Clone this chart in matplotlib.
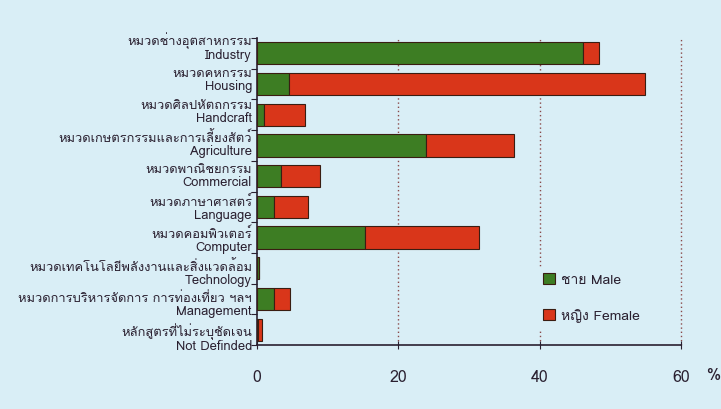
import matplotlib
matplotlib.use("Agg")
import matplotlib.pyplot as plt
from matplotlib import font_manager
from matplotlib.ft2font import FT2Font

# ---------------- data ----------------
thai_labels = [
    "หมวดช่างอุตสาหกรรม",
    "หมวดคหกรรม",
    "หมวดศิลปหัตถกรรม",
    "หมวดเกษตรกรรมและการเลี้ยงสัตว์",
    "หมวดพาณิชยกรรม",
    "หมวดภาษาศาสตร์",
    "หมวดคอมพิวเตอร์",
    "หมวดเทคโนโลยีพลังงานและสิ่งแวดล้อม",
    "หมวดการบริหารจัดการ การท่องเที่ยว ฯลฯ",
    "หลักสูตรที่ไม่ระบุชัดเจน",
]
english_labels = [
    "Industry", "Housing", "Handcraft", "Agriculture", "Commercial",
    "Language", "Computer", "Technology", "Management", "Not Definded",
]
male = [46.1, 4.5, 1.0, 23.9, 3.4, 2.4, 15.3, 0.3, 2.4, 0.1]
female = [2.3, 50.4, 5.8, 12.4, 5.5, 4.8, 16.1, 0.0, 2.3, 0.6]
x_ticks = [0, 20, 40, 60]
legend_labels = ["ชาย Male", "หญิง Female"]

# ---------------- fonts ----------------
def find_thai_font():
    found = []
    for f in font_manager.fontManager.ttflist:
        if "CJK" in f.name:
            continue
        try:
            cm = FT2Font(f.fname).get_charmap()
        except Exception:
            continue
        if 0x0E2B in cm and 0x0E21 in cm:
            found.append(f.name)
    return found

thai_fonts = find_thai_font()
fam = (thai_fonts[:1] if thai_fonts else []) + ["DejaVu Sans"]
plt.rcParams["font.family"] = fam

BG = "#d9eef6"
GREEN = "#3d7d23"
RED = "#d9361a"
EDGE = "#3a1d12"
GRID = "#8a4a4a"
TXT = "#2a2030"

fig = plt.figure(figsize=(7.21, 4.10), dpi=100, facecolor=BG)
ax = fig.add_axes([257 / 721, 1 - 346 / 410, (681 - 257) / 721, (346 - 39) / 410])
ax.set_facecolor(BG)

n = len(male)
ys = list(range(n))
ax.barh(ys, male, height=0.72, color=GREEN, edgecolor=EDGE, linewidth=0.8,
        label=legend_labels[0], zorder=3)
ax.barh(ys, female, left=male, height=0.72, color=RED, edgecolor=EDGE,
        linewidth=0.8, label=legend_labels[1], zorder=3)

ax.set_ylim(n - 0.5, -0.5)
ax.set_xlim(0, 60)

for v in x_ticks[1:]:
    ax.axvline(v, color=GRID, linestyle=(0, (1, 2)), linewidth=1.0, zorder=1,
               clip_on=False)

for s in ["top", "right"]:
    ax.spines[s].set_visible(False)
ax.spines["left"].set_color(TXT)
ax.spines["bottom"].set_color(TXT)
ax.spines["left"].set_linewidth(1.2)
ax.spines["bottom"].set_linewidth(1.2)
ax.spines["bottom"].set_zorder(4)

ax.set_yticks([i - 0.5 for i in range(n + 1)])
ax.set_yticklabels([])
ax.tick_params(axis="y", length=4, color=TXT, direction="out")

ax.set_xticks(x_ticks)
ax.set_xticklabels([str(t) for t in x_ticks], fontsize=11.5, color=TXT,
                   fontweight="medium")
ax.tick_params(axis="x", length=6, direction="inout", color=TXT, pad=14)
ax.text(1.075, -0.098, "%", transform=ax.transAxes, fontsize=11.5, color=TXT,
        ha="center", va="center")

for i in range(n):
    yl = i - 0.23 + 0.0511 * i
    ax.text(-0.012, yl, thai_labels[i] + "\n" + english_labels[i],
            transform=ax.get_yaxis_transform(), ha="right", va="center",
            fontsize=9.3, color=TXT, linespacing=1.0, multialignment="right")

leg = ax.legend(loc="center left", bbox_to_anchor=(0.645, 0.155), frameon=True,
                facecolor=BG, edgecolor=BG, fontsize=10, labelspacing=1.6,
                handlelength=0.9, handleheight=0.9, handletextpad=0.4,
                labelcolor=TXT)
leg.get_frame().set_alpha(1.0)
leg.set_zorder(5)

fig.savefig("out.png", dpi=100, facecolor=BG)
